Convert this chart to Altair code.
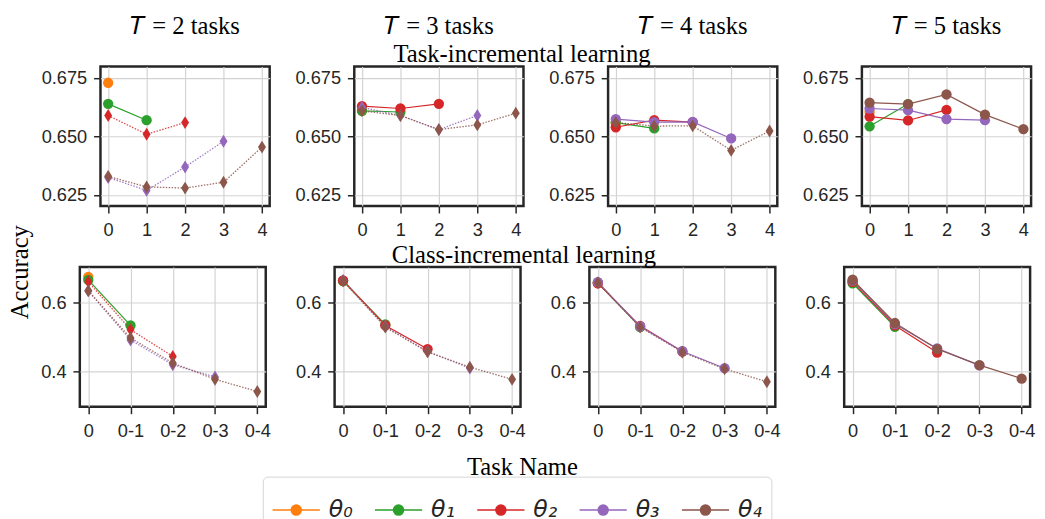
import json
import altair as alt
import pandas as pd

# ---------------- data ----------------
SERIES = ["θ₀", "θ₁", "θ₂", "θ₃", "θ₄"]
COLORS = ["#ff7f0e", "#2ca02c", "#d62728", "#9467bd", "#8c564b"]
TASK_COUNTS = [2, 3, 4, 5]
TASK_TICKS = [0, 1, 2, 3, 4]
TIL_TICK_LABELS = ["0", "1", "2", "3", "4"]
CIL_TICK_LABELS = ["0", "0-1", "0-2", "0-3", "0-4"]
TIL_Y_TICKS = [0.625, 0.650, 0.675]
CIL_Y_TICKS = [0.4, 0.6]

# Task-incremental learning (top row); one list per θ_i, values for tasks 0..i
TIL_T2 = [[0.673], [0.664, 0.657], [0.659, 0.651, 0.656],
          [0.6325, 0.627, 0.637, 0.648], [0.633, 0.6285, 0.628, 0.6305, 0.6455]]
TIL_T3 = [[0.661], [0.661, 0.6605], [0.663, 0.662, 0.664],
          [0.6625, 0.659, 0.653, 0.659], [0.661, 0.659, 0.653, 0.655, 0.660]]
TIL_T4 = [[0.656], [0.656, 0.6535], [0.654, 0.657, 0.6562],
          [0.6575, 0.6562, 0.6563, 0.6492], [0.656, 0.6545, 0.6546, 0.6441, 0.6524]]
TIL_T5 = [[0.6605], [0.6544, 0.6639], [0.6585, 0.6569, 0.6614],
          [0.662, 0.6613, 0.6575, 0.657], [0.6645, 0.6639, 0.668, 0.6594, 0.6532]]

# Class-incremental learning (bottom row)
CIL_T2 = [[0.673], [0.664, 0.533], [0.659, 0.521, 0.444],
          [0.6325, 0.491, 0.420, 0.385], [0.633, 0.497, 0.425, 0.378, 0.343]]
CIL_T3 = [[0.661], [0.661, 0.536], [0.663, 0.533, 0.465],
          [0.6625, 0.530, 0.458, 0.410], [0.661, 0.528, 0.457, 0.413, 0.378]]
CIL_T4 = [[0.656], [0.656, 0.528], [0.654, 0.532, 0.458],
          [0.6575, 0.530, 0.459, 0.410], [0.656, 0.528, 0.456, 0.408, 0.371]]
CIL_T5 = [[0.6605], [0.6544, 0.529], [0.6585, 0.533, 0.455],
          [0.662, 0.537, 0.467, 0.418], [0.6645, 0.540, 0.465, 0.419, 0.380]]

TIL = [TIL_T2, TIL_T3, TIL_T4, TIL_T5]
CIL = [CIL_T2, CIL_T3, CIL_T4, CIL_T5]

# ---------------- styling ----------------
DARK = "#262626"
SERIF = "Liberation Serif"
SANS = "Liberation Sans"
DIAMOND = "M0,-1L0.62,0L0,1L-0.62,0Z"
LEGEND_SYMBOL = ("M-1,0L1,0"
                 "M0.21,0A0.21,0.21 0 1,0 -0.21,0A0.21,0.21 0 1,0 0.21,0"
                 "M0.15,0A0.15,0.15 0 1,0 -0.15,0A0.15,0.15 0 1,0 0.15,0"
                 "M0.09,0A0.09,0.09 0 1,0 -0.09,0A0.09,0.09 0 1,0 0.09,0"
                 "M0.03,0A0.03,0.03 0 1,0 -0.03,0A0.03,0.03 0 1,0 0.03,0")

LEGEND = alt.Legend(
    title=None, orient="none", legendX=253, legendY=417,
    direction="horizontal", columns=5,
    symbolType=LEGEND_SYMBOL, symbolSize=2304, symbolStrokeWidth=1.6,
    labelFont="DejaVu Sans", labelFontStyle="italic", labelFontSize=24,
    labelColor=DARK, labelOffset=8, columnPadding=18,
    strokeColor="#d4d4d4", cornerRadius=5, padding=9,
)


def panel_df(values, T):
    rows = []
    for i, vals in enumerate(values):
        for j, v in enumerate(vals):
            rows.append({"series": SERIES[i], "task": j, "acc": v,
                         "trained": i < T})
    return pd.DataFrame(rows)


def make_panel(values, T, labels, ydom, yticks, yfmt, width, title=None):
    df = panel_df(values, T)
    x = alt.X("task:Q",
              scale=alt.Scale(domain=[-0.2, 4.2], nice=False, zero=False),
              axis=alt.Axis(values=TASK_TICKS, title=None,
                            labelExpr=json.dumps(labels) + "[datum.value]"))
    y = alt.Y("acc:Q",
              scale=alt.Scale(domain=ydom, nice=False, zero=False),
              axis=alt.Axis(values=yticks, format=yfmt, title=None))
    color = alt.Color("series:N", scale=alt.Scale(domain=SERIES, range=COLORS),
                      legend=LEGEND)
    solid = df[df.trained]
    pred = df[~df.trained]
    layers = [
        alt.Chart(solid).mark_line(strokeWidth=1.2).encode(x=x, y=y, color=color),
        alt.Chart(solid).mark_point(filled=True, size=110, opacity=1,
                                    shape="circle").encode(x=x, y=y, color=color),
    ]
    if len(pred):
        layers += [
            alt.Chart(pred).mark_line(strokeWidth=1.3, strokeDash=[1.5, 1.5],
                                      opacity=0.85).encode(x=x, y=y, color=color),
            alt.Chart(pred).mark_point(filled=True, size=170, opacity=1,
                                       shape=DIAMOND).encode(x=x, y=y, color=color),
        ]
    ch = alt.layer(*layers).properties(width=width, height=142)
    if title is not None:
        ch = ch.properties(title=alt.TitleParams(
            text=title, offset=28, anchor="middle", frame="group",
            font=SERIF, fontSize=25, fontWeight="normal", color="black"))
    return ch


def spacer():
    # invisible 1px cell so both rows line up by their axis-label edge
    return alt.Chart(pd.DataFrame({"v": [0]})).mark_point(opacity=0).properties(
        width=1, height=1,
        view=alt.ViewBackground(strokeWidth=0, strokeOpacity=0))


top = [make_panel(TIL[k], T, TIL_TICK_LABELS, [0.6203, 0.6800], TIL_Y_TICKS,
                  ".3f", 172, title=f"𝑇 = {T} tasks")
       for k, T in enumerate(TASK_COUNTS)]
bottom = [make_panel(CIL[k], T, CIL_TICK_LABELS, [0.299, 0.701], CIL_Y_TICKS,
                     ".1f", 189)
          for k, T in enumerate(TASK_COUNTS)]


def ttl(text, **kw):
    return alt.TitleParams(text=text, font=SERIF, fontSize=25,
                           fontWeight="normal", color="black", anchor="middle", **kw)


row1 = alt.hconcat(spacer(), *top, spacing=22).properties(
    title=ttl("Task-incremental learning", offset=-55))
row2 = alt.hconcat(spacer(), *bottom, spacing=22).properties(
    title=ttl("Class-incremental learning", offset=-3))
grid = alt.vconcat(row1, row2, spacing=2).properties(
    title=ttl("Accuracy", orient="left", offset=-22, dx=-46))
inner = alt.vconcat(grid).properties(title=ttl("Task Name", orient="bottom", offset=15))

chart = alt.vconcat(inner).properties(
    padding={"left": 0, "top": 0, "right": 0, "bottom": 0}
).configure_view(
    stroke=DARK, strokeWidth=2.5
).configure_axis(
    grid=True, gridColor="#d3d3d3", gridWidth=1.2, domain=False,
    tickColor=DARK, tickSize=7, tickWidth=1.5,
    labelFont=SANS, labelFontSize=18.5, labelColor=DARK,
).configure_axisX(
    labelPadding=8
).configure_axisY(
    labelPadding=7
)

chart.save("out.html", embed_options={"renderer": "svg", "actions": False})
